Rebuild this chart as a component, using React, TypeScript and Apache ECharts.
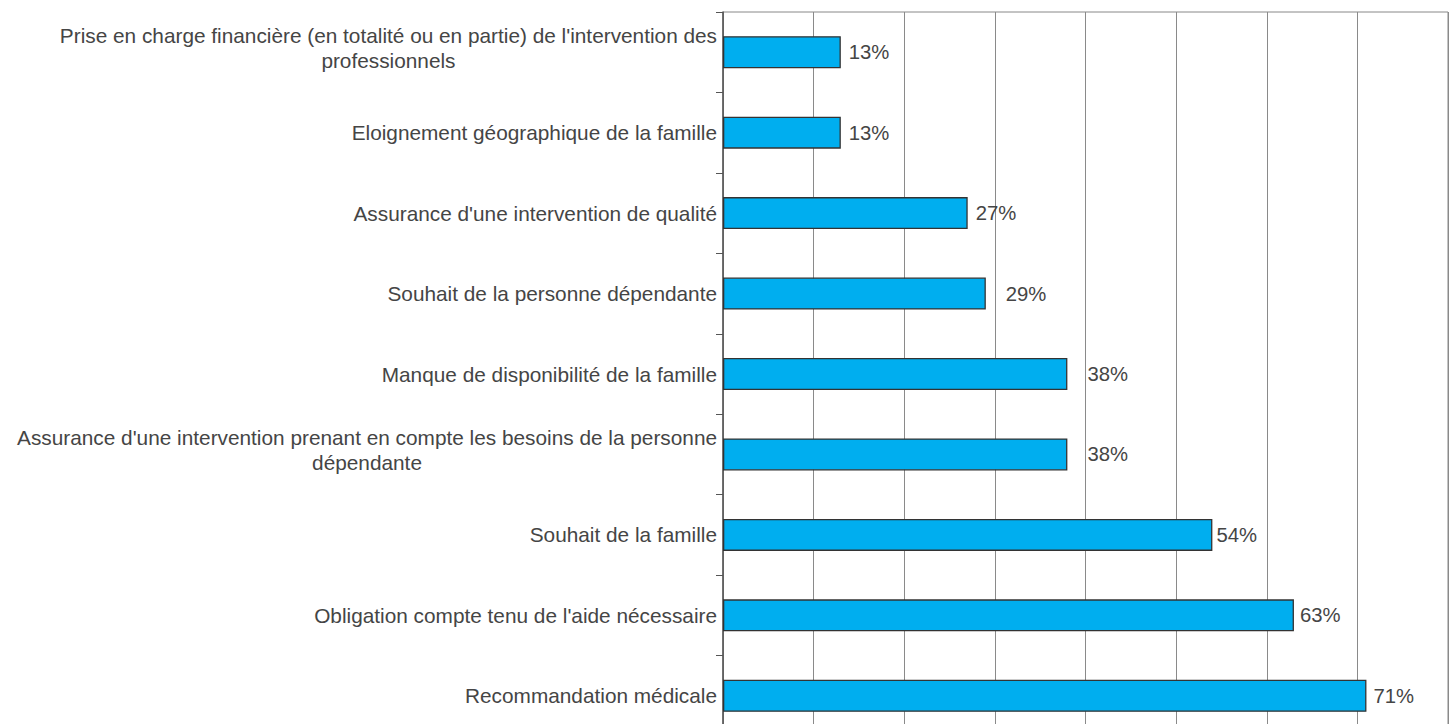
import React, { useEffect, useRef } from "react";
import * as echarts from "echarts";

const categories: string[] = [
  "Prise en charge financière (en totalité ou en partie) de l'intervention des\nprofessionnels",
  "Eloignement géographique de la famille",
  "Assurance d'une intervention de qualité",
  "Souhait de la personne dépendante",
  "Manque de disponibilité de la famille",
  "Assurance d'une intervention prenant en compte les besoins de la personne\ndépendante",
  "Souhait de la famille",
  "Obligation compte tenu de l'aide nécessaire",
  "Recommandation médicale",
];

const values: number[] = [13, 13, 27, 29, 38, 38, 54, 63, 71];

const xTicks = { min: 0, max: 80, interval: 10 };

// label gap (styling only)
const labelGaps: number[] = [8, 8, 8, 20, 20, 20, 4, 6, 7];

export default function App() {
  const ref = useRef<HTMLDivElement>(null);
  useEffect(() => {
    if (!ref.current) return;
    const chart = echarts.init(ref.current, undefined, { renderer: "svg" });
    chart.setOption({
      animation: false,
      backgroundColor: "#ffffff",
      grid: {
        left: 723,
        top: 12,
        width: 725,
        height: 724,
        show: true,
        borderColor: "#888888",
        borderWidth: 1,
        containLabel: false,
      },
      xAxis: {
        type: "value",
        min: xTicks.min,
        max: xTicks.max,
        interval: xTicks.interval,
        axisLabel: { show: false },
        axisLine: { show: false },
        axisTick: { show: false },
        splitLine: { show: true, lineStyle: { color: "#8a8a8a", width: 1 } },
      },
      yAxis: {
        type: "category",
        data: categories.map((c) =>
          c.includes("\n")
            ? { value: c, textStyle: { padding: [0, 0, 9, 0] } }
            : c
        ),
        inverse: true,
        axisLine: { show: true, lineStyle: { color: "#555555", width: 1.5 } },
        axisTick: { show: true, length: 7, lineStyle: { color: "#555555" } },
        axisLabel: {
          margin: 6,
          formatter: (v: string) =>
            v
              .split("\n")
              .map((l) => `{c|${l}}`)
              .join("\n"),
          rich: {
            c: {
              align: "center",
              fontSize: 20.8,
              lineHeight: 25,
              color: "#454545",
              fontFamily: "Liberation Sans, Arial, sans-serif",
            },
          },
        },
      },
      series: [
        {
          type: "bar",
          barWidth: 32,
          data: values.map((v, i) => ({
            value: v,
            label: { distance: labelGaps[i] },
          })),
          itemStyle: {
            color: "#00AEEF",
            borderColor: "#333333",
            borderWidth: 1.3,
          },
          label: {
            show: true,
            position: "right",
            formatter: "{c}%",
            fontSize: 20.3,
            color: "#454545",
            fontFamily: "Liberation Sans, Arial, sans-serif",
          },
        },
      ],
    });
    return () => chart.dispose();
  }, []);
  return (
    <div
      style={{
        position: "fixed",
        left: 0,
        top: 0,
        width: 1456,
        height: 724,
        overflow: "hidden",
        background: "#fff",
      }}
    >
      <div ref={ref} style={{ width: 1456, height: 760 }} />
    </div>
  );
}
